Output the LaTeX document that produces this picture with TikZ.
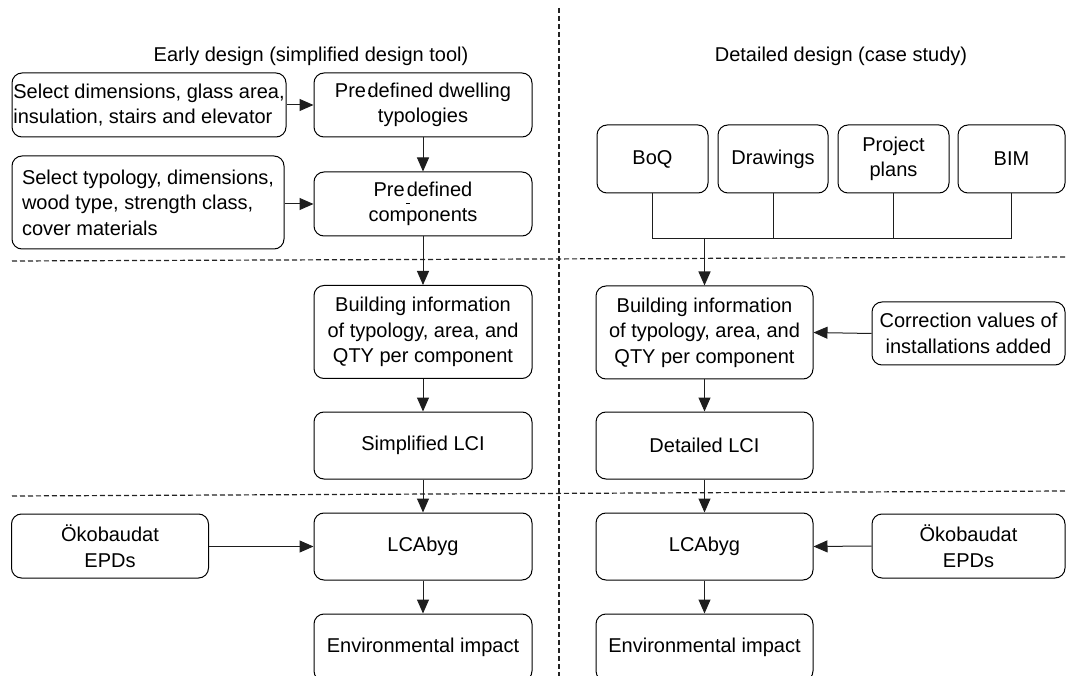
\documentclass[tikz,border=0pt]{standalone}
\usepackage{fontspec}
\setmainfont{Liberation Sans}
\usetikzlibrary{arrows.meta}
\definecolor{dashgray}{RGB}{35,35,35}
\definecolor{linegray}{RGB}{30,30,30}
\begin{document}
\begin{tikzpicture}[x=1pt,y=-1pt,
  every node/.style={font={\fontsize{20}{25.5}\selectfont}},
  box/.style={draw=black, line width=1pt, rounded corners=10pt, align=center, inner sep=0pt},
  lbox/.style={box, align=left},
  conn/.style={draw=linegray, line width=1pt},
  arr/.style={conn, -{Triangle[length=14pt,width=12pt]}},
  sep/.style={draw=dashgray, line width=1.2pt, dash pattern=on 5pt off 3pt}
]
\useasboundingbox (0,0) rectangle (1066,676);
\clip (0,0) rectangle (1066,676);

% separators
\coordinate (vtop) at (559,8);
\coordinate (vbot) at (559,676);
\coordinate (h1l) at (12,261);
\coordinate (h1r) at (1066,257);
\coordinate (h2l) at (12,496);
\coordinate (h2r) at (1066,491);
\draw[sep] (vtop) -- (vbot);
\draw[sep] (h1l) -- (h1r);
\draw[sep] (h2l) -- (h2r);

% titles
\node (t1) at (311,56) {Early design (simplified design tool)};
\node (t2) at (841,56) {Detailed design (case study)};

% left column
\node[lbox, minimum width=274pt, minimum height=64pt] (s1) at (149,105)
  {Select dimensions, glass area,\\insulation, stairs and elevator};
\node[box, minimum width=218pt, minimum height=64pt] (p1) at (423,105)
  {Pre\kern1.5pt\rlap{\raisebox{0.3ex}{\rule{3pt}{1.4pt}}}defined dwelling\\typologies};
\node[lbox, minimum width=272pt, minimum height=93pt] (s2) at (148,202.5)
  {Select typology, dimensions,\\wood type, strength class,\\cover materials\hspace{92pt}};
\node[box, minimum width=218pt, minimum height=64pt] (p2) at (423,204)
  {Pre\kern2pt\rlap{\kern-1pt\raisebox{-8pt}{\rule{4pt}{1.2pt}}}defined\\components};
\node[box, minimum width=218pt, minimum height=93pt] (b1) at (423,332)
  {Building information\\of typology, area, and\\QTY per component};
\node[box, minimum width=218pt, minimum height=67pt] (l1) at (423,445.5) {Simplified LCI};
\node[box, minimum width=197pt, minimum height=64pt] (o1) at (110,546) {Ökobaudat\\EPDs};
\node[box, minimum width=218pt, minimum height=67pt] (lca1) at (423,546.5) {LCAbyg};
\node[box, minimum width=218pt, minimum height=67pt] (e1) at (423,647.5) {Environmental impact};

% right column
\node[box, minimum width=111pt, minimum height=68pt] (boq) at (652.5,159) {BoQ};
\node[box, minimum width=110pt, minimum height=68pt] (drw) at (773,159) {Drawings};
\node[box, minimum width=111pt, minimum height=68pt] (pp) at (893.5,159) {Project\\plans};
\node[box, minimum width=107pt, minimum height=68pt] (bim) at (1011.5,159) {BIM};
\coordinate (m) at (704.5,239);
\node[box, minimum width=217pt, minimum height=93pt] (b2) at (704.5,332.5)
  {Building information\\of typology, area, and\\QTY per component};
\node[box, minimum width=193pt, minimum height=63pt] (corr) at (968.5,333.5)
  {Correction values of\\installations added};
\node[box, minimum width=217pt, minimum height=67pt] (l2) at (704.5,445.5) {Detailed LCI};
\node[box, minimum width=217pt, minimum height=67pt] (lca2) at (704.5,546.5) {LCAbyg};
\node[box, minimum width=193pt, minimum height=64pt] (o2) at (968.5,546) {Ökobaudat\\EPDs};
\node[box, minimum width=217pt, minimum height=67pt] (e2) at (704.5,647.5) {Environmental impact};

% left connectors
\draw[arr] (s1.east) -- (p1.west);
\draw[arr] (s2.east |- p2.west) -- (p2.west);
\draw[arr] (p1.south) -- (p2.north);
\draw[arr] (p2.south) -- (b1.north);
\draw[arr] (b1.south) -- (l1.north);
\draw[arr] (l1.south) -- (lca1.north);
\draw[arr] (lca1.south) -- (e1.north);
\draw[arr] (o1.east |- lca1.west) -- (lca1.west);

% right connectors
\draw[conn] (boq.south) -- (boq.south |- m) -- (bim.south |- m) -- (bim.south);
\draw[conn] (drw.south) -- (drw.south |- m);
\draw[conn] (pp.south) -- (pp.south |- m);
\draw[arr, line width=1.4pt] (m) -- (b2.north);
\draw[arr] (corr.west) -- (b2.east);
\draw[arr] (b2.south) -- (l2.north);
\draw[arr] (l2.south) -- (lca2.north);
\draw[arr] (lca2.south) -- (e2.north);
\draw[arr] (o2.west) -- (lca2.east);
\end{tikzpicture}
\end{document}
